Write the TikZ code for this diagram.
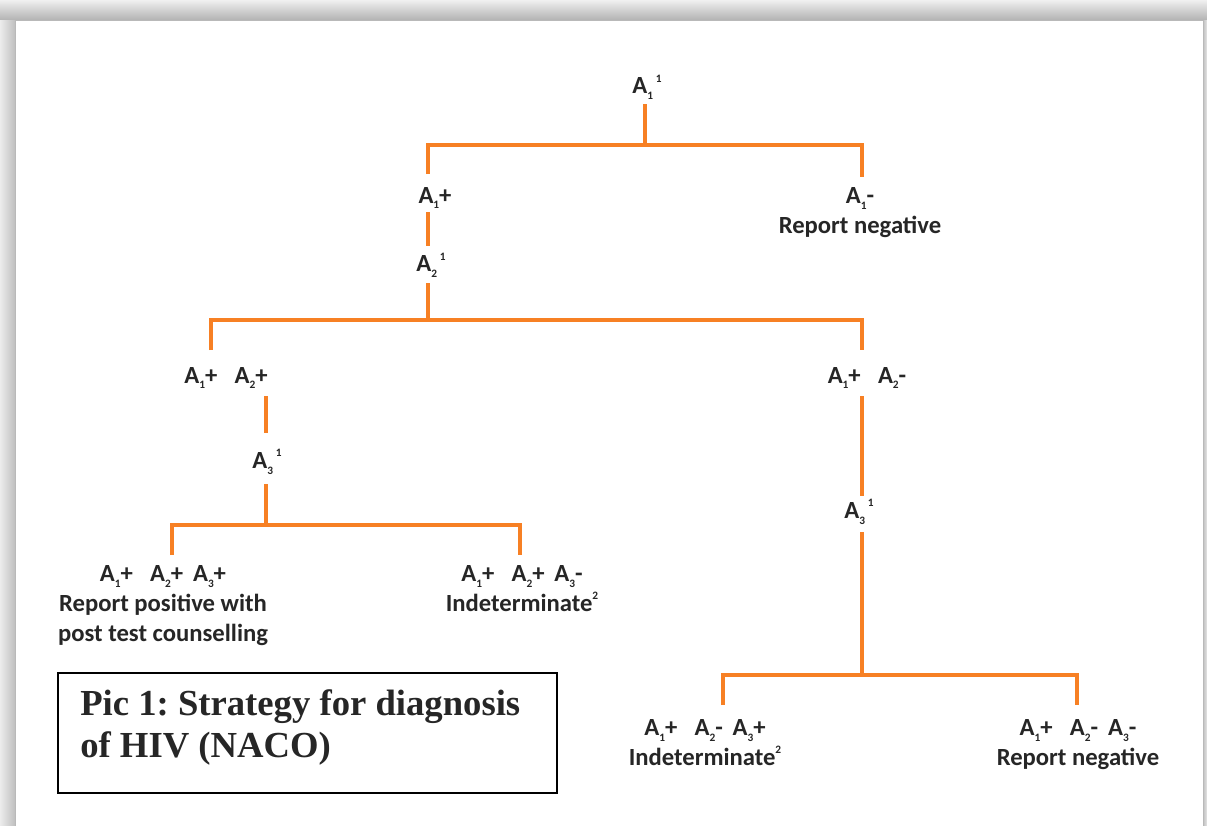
\documentclass[tikz,border=0pt]{standalone}
\usepackage{fontspec}
\setmainfont{Carlito}
\newfontfamily\capfont{Liberation Serif}
\frenchspacing
\definecolor{branchorange}{RGB}{247,128,36}
\newcommand{\Ab}[1]{A\raisebox{-0.5ex}{\fontsize{8.5}{8.5}\selectfont #1}}
\newcommand{\tsup}[1]{\raisebox{0.95ex}{\fontsize{8.5}{8.5}\selectfont #1}}
\newcommand{\gapA}{\hspace{0.7em}}
\newcommand{\gapB}{\hspace{0.4em}}
\tikzset{
  branch/.style={draw=branchorange, line width=2.3pt},
  lbl/.style={font=\bfseries\fontsize{18.5}{22.5}\selectfont, align=center, inner sep=0.75pt, text=black!85}
}
\begin{document}
\begin{tikzpicture}[x=0.75pt,y=0.75pt,yscale=-1,xscale=1]
\useasboundingbox (0,0) rectangle (1207,825);

%Shadow frame
\shade [top color=gray!12, bottom color=gray!60] (0,0) rectangle (1207,20);
\shade [left color=gray!15, right color=gray!50] (0,20) rectangle (15,825);
\shade [left color=gray!50, right color=gray!20] (1203,20) rectangle (1207,825);
\draw [fill=white, draw=gray!55, line width=0.6pt] (15,20) rectangle (1203,830);

%Line ends
\coordinate (e0) at (645,104);
\coordinate (j0) at (645,145);
\coordinate (e1a) at (428,174);
\coordinate (e1b) at (862,177);
\coordinate (e2a) at (428,212);
\coordinate (e2b) at (428,246);
\coordinate (e3) at (428,283);
\coordinate (j3) at (428,320);
\coordinate (e4a) at (211,350);
\coordinate (e4b) at (862,350);
\coordinate (e5a) at (266,396);
\coordinate (e5b) at (266,433);
\coordinate (e6) at (266,484);
\coordinate (j6) at (266,525);
\coordinate (e7a) at (172,555);
\coordinate (e7b) at (520,555);
\coordinate (e8a) at (862,396);
\coordinate (e8b) at (862,496);
\coordinate (e9) at (862,532);
\coordinate (j9) at (862,675);
\coordinate (e10a) at (723,705);
\coordinate (e10b) at (1077,705);

%Straight Lines
\draw [branch] (e0) -- (j0);
\draw [branch] (e1a) |- (j0) -| (e1b);
\draw [branch] (e2a) -- (e2b);
\draw [branch] (e3) -- (j3);
\draw [branch] (e4a) |- (j3) -| (e4b);
\draw [branch] (e5a) -- (e5b);
\draw [branch] (e6) -- (j6);
\draw [branch] (e7a) |- (j6) -| (e7b);
\draw [branch] (e8a) -- (e8b);
\draw [branch] (e9) -- (j9);
\draw [branch] (e10a) |- (j9) -| (e10b);

% Text Node
\node [lbl] (a1test) at (647,87) {\Ab{1}\kern2pt\tsup{1}};
% Text Node
\node [lbl] (a1pos) at (435,198) {\Ab{1}+};
% Text Node
\node [lbl, anchor=north] (a1neg) at (860,186) {\Ab{1}-\\Report negative};
% Text Node
\node [lbl] (a2test) at (431,265) {\Ab{2}\kern2pt\tsup{1}};
% Text Node
\node [lbl] (pp) at (226,378) {\Ab{1}+\gapA\Ab{2}+};
% Text Node
\node [lbl] (pn) at (867,378) {\Ab{1}+\gapA\Ab{2}-};
% Text Node
\node [lbl] (a3left) at (267,462) {\Ab{3}\kern2pt\tsup{1}};
% Text Node
\node [lbl] (a3right) at (859,512) {\Ab{3}\kern2pt\tsup{1}};
% Text Node
\node [lbl, anchor=north] (ppp) at (163,564) {\Ab{1}+\gapA\Ab{2}+\gapB\Ab{3}+\\Report positive with\\post test counselling};
% Text Node
\node [lbl, anchor=north] (ppn) at (522,564) {\Ab{1}+\gapA\Ab{2}+\gapB\Ab{3}-\\Indeterminate\tsup{2}};
% Text Node
\node [lbl, anchor=north] (pnp) at (705,718) {\Ab{1}+\gapA\Ab{2}-\gapB\Ab{3}+\\Indeterminate\tsup{2}};
% Text Node
\node [lbl, anchor=north] (pnn) at (1078,718) {\Ab{1}+\gapA\Ab{2}-\gapB\Ab{3}-\\Report negative};

%Caption box
\draw [line width=1.2pt, fill=white] (58,673) rectangle (557,793);
\node [anchor=north west, align=left, inner sep=0pt, font=\capfont\bfseries\fontsize{27.5}{32}\selectfont, text=black!85] (caption) at (80,689) {Pic 1: Strategy for diagnosis\\of HIV (NACO)};
\end{tikzpicture}
\end{document}
